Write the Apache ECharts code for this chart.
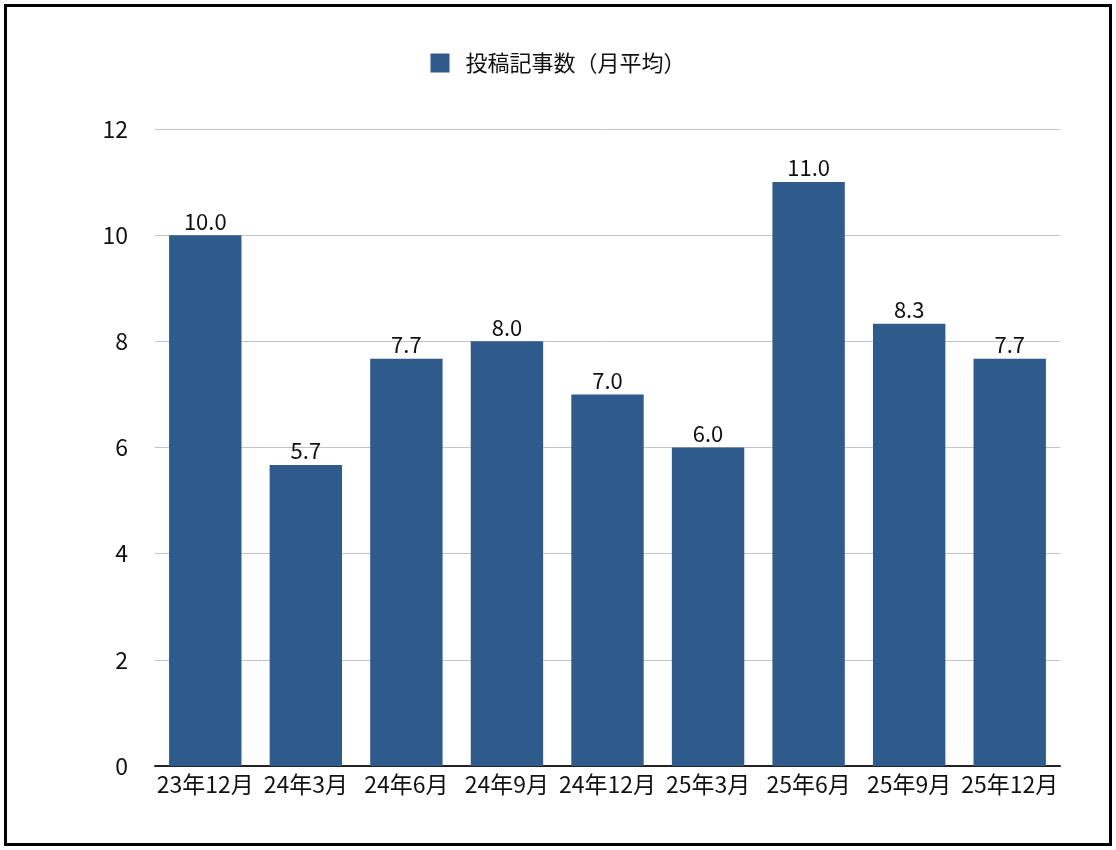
<!DOCTYPE html>
<html>
<head>
<meta charset="utf-8">
<script src="https://cdn.jsdelivr.net/npm/echarts@6/dist/echarts.min.js"></script>
<style>
  html, body { margin: 0; padding: 0; background: #fff; }
  #chart { width: 1116px; height: 850px; }
</style>
</head>
<body>
<div id="chart"></div>
<script>
var categories = ['23年12月', '24年3月', '24年6月', '24年9月', '24年12月', '25年3月', '25年6月', '25年9月', '25年12月'];
var postCounts = [10.0, 5.67, 7.67, 8.0, 7.0, 6.0, 11.0, 8.33, 7.67];
var seriesName = '投稿記事数（月平均）';

var fontFamily = '"Noto Sans CJK JP", "Noto Sans", sans-serif';

var chart = echarts.init(document.getElementById('chart'));
chart.setOption({
    animation: false,
    textStyle: { fontFamily: fontFamily },
    // outer frame
    graphic: [{
        type: 'rect',
        shape: { x: 5.5, y: 5.5, width: 1105, height: 839 },
        style: { fill: 'none', stroke: '#000', lineWidth: 3 },
        silent: true
    }],
    legend: {
        top: 47,
        left: 'center',
        itemWidth: 19,
        itemHeight: 19,
        icon: 'rect',
        textStyle: { fontSize: 22, color: '#111', fontFamily: fontFamily, padding: [0, 0, 0, 11] },
        data: [seriesName]
    },
    grid: { left: 155, right: 56, top: 129, bottom: 84 },
    xAxis: {
        type: 'category',
        data: categories,
        axisLine: { lineStyle: { color: '#222', width: 2 } },
        axisTick: { show: false },
        axisLabel: { fontSize: 23, color: '#111', margin: 7, interval: 0 }
    },
    yAxis: {
        type: 'value',
        min: 0,
        max: 12,
        interval: 2,
        axisLine: { show: false },
        axisTick: { show: false },
        axisLabel: { fontSize: 23, color: '#111', margin: 27 },
        splitLine: { lineStyle: { color: '#c4c4c4', width: 1 } }
    },
    series: [{
        name: seriesName,
        type: 'bar',
        data: postCounts,
        barCategoryGap: '28%',
        itemStyle: { color: '#2f5a8c' },
        label: {
            show: true,
            position: 'top',
            distance: 3,
            fontSize: 22,
            color: '#111',
            formatter: function (p) { return p.value.toFixed(1); }
        }
    }]
});
</script>
</body>
</html>
